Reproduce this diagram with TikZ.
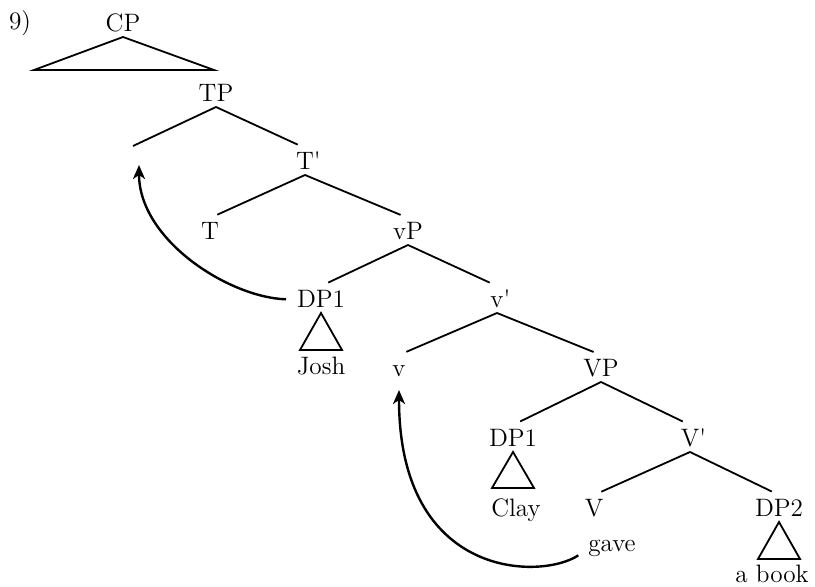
\documentclass[tikz,border=0pt]{standalone}
\usepackage{amsmath}
\usepackage{tikz}
\usetikzlibrary{arrows.meta}

\begin{document}
\begin{tikzpicture}[x=0.5pt,y=-0.5pt,
  lbl/.style={anchor=base,inner sep=2.3pt,text height=8.5pt,text depth=0pt,
    font=\fontsize{12.6}{15}\selectfont},
  branch/.style={line width=0.9pt,shorten >=4pt},
  roof/.style={line width=0.9pt},
  move/.style={line width=1.2pt,-{Stealth[length=7pt,width=6pt,inset=2pt]}}]
  \useasboundingbox (0,0) rectangle (815,587);

  \node[lbl] (num) at (20,30) {9)};
  \node[lbl] (CP) at (123,32) {CP};
  \node[lbl] (TP) at (216,102) {TP};
  \coordinate (spec) at (133,146);
  \coordinate (trace) at (139,165);
  \node[lbl] (Tbar) at (305,170) {T\rlap{\textquotesingle}};
  \node[lbl] (T) at (210,240) {T};
  \node[lbl] (vP) at (408,240) {vP};
  \node[lbl] (DPa) at (321,308) {DP1};
  \node[lbl] (vbar) at (497,308) {v\rlap{\textquotesingle}};
  \node[lbl] (Josh) at (321,375) {Josh};
  \node[lbl] (v) at (399,377) {v};
  \node[lbl] (VP) at (601,377) {VP};
  \node[lbl] (DPb) at (513,447) {DP1};
  \node[lbl] (Vbar) at (690,447) {V\rlap{\textquotesingle}};
  \node[lbl] (Clay) at (516,517) {Clay};
  \node[lbl] (V) at (594,517) {V};
  \node[lbl] (DPc) at (779,517) {DP2};
  \node[lbl] (gave) at (612,552) {gave};
  \node[lbl] (book) at (772,583) {a book};

  \draw[roof] (CP.south)
  -- ++(-89,33)
  -- ++(180,0)
  -- cycle;
  \draw[roof] (DPa.south)
  -- ++(-21,37)
  -- ++(42,0)
  -- cycle;
  \draw[roof] (DPb.south)
  -- ++(-21,36)
  -- ++(42,0)
  -- cycle;
  \draw[roof] (DPc.south)
  -- ++(-21,37)
  -- ++(42,0)
  -- cycle;

  \draw[branch,shorten >=0pt] (TP.south) -- (spec);
  \draw[branch] (TP.south) -- (Tbar.north);
  \draw[branch] (Tbar.south) -- (T.north);
  \draw[branch] (Tbar.south) -- (vP.north);
  \draw[branch] (vP.south) -- (DPa.north);
  \draw[branch] (vP.south) -- (vbar.north);
  \draw[branch] (vbar.south) -- (v.north);
  \draw[branch] (vbar.south) -- (VP.north);
  \draw[branch] (VP.south) -- (DPb.north);
  \draw[branch] (VP.south) -- (Vbar.north);
  \draw[branch] (Vbar.south) -- (V.north);
  \draw[branch] (Vbar.south) -- (DPc.north);

  \draw[move,shorten <=3pt] (DPa.west)
  .. controls +(-63,-2) and +(0,75) .. (trace);
  \draw[move,shorten <=3pt,shorten >=4pt] (gave.base west)
  .. controls +(-42,28) and +(0,198) .. (v.south);
\end{tikzpicture}
\end{document}
